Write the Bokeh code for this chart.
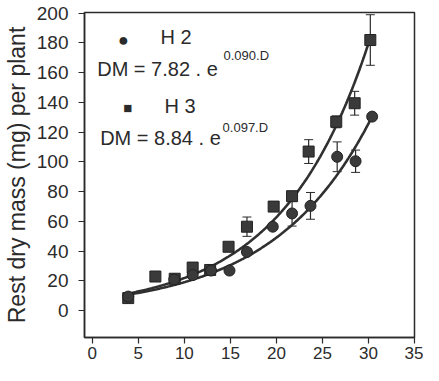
import numpy as np
from bokeh.plotting import figure
from bokeh.models import ColumnDataSource, Whisker, FixedTicker, Label, Range1d
from bokeh.embed import file_html
from bokeh.resources import INLINE

# ---- data ----
h2_day = [3.9, 8.9, 10.9, 12.9, 14.9, 16.8, 19.6, 21.7, 23.7, 26.6, 28.6, 30.4]
h2_dm = [9.5, 21, 24, 27, 27, 39.5, 56.5, 65.4, 70.5, 103.5, 100.5, 130.5]
h2_err = [1, 1, 1.5, 1, 1, 2, 2, 8.5, 9, 10, 7.5, 2]

h3_day = [3.9, 6.85, 8.95, 10.9, 12.8, 14.8, 16.8, 19.7, 21.7, 23.5, 26.5, 28.5, 30.2]
h3_dm = [8.5, 23, 21.5, 29, 27.4, 43, 56.5, 70, 77, 107, 127, 139.5, 182]
h3_err = [1, 2, 1, 2, 1, 1.5, 6.5, 1.5, 2, 8, 4, 8, 17]

# fitted curves as drawn in the picture: DM = a * exp(b * D)
curve_a = [7.5, 7.7]
curve_b = [0.094, 0.105]
curve_start = [3.8, 3.8]

eq_coef = ["7.82", "8.84"]
eq_exp = ["0.090", "0.097"]
series_names = ["H 2", "H 3"]

x_ticks = [0, 5, 10, 15, 20, 25, 30, 35]
y_ticks = [0, 20, 40, 60, 80, 100, 120, 140, 160, 180, 200]

FONT = "Liberation Sans"
INK = "#2b2b2b"
MARK = "#3a3a3a"

p = figure(width=423, height=365, output_backend="svg", toolbar_location=None,
           x_range=Range1d(-0.85, 35), y_range=Range1d(-18, 200.5),
           min_border_left=80, min_border_right=9, min_border_top=12, min_border_bottom=28)
p.background_fill_color = "white"
p.border_fill_color = "white"
p.grid.visible = False
p.outline_line_color = INK
p.outline_line_width = 1.5

for ax in (p.xaxis[0], p.yaxis[0]):
    ax.axis_line_color = INK
    ax.axis_line_width = 1.5
    ax.major_tick_line_color = INK
    ax.major_tick_line_width = 1.2
    ax.major_tick_in = 0
    ax.major_tick_out = 6
    ax.minor_tick_line_color = None
    ax.major_label_text_font = FONT
    ax.major_label_text_color = INK

p.xaxis.ticker = FixedTicker(ticks=x_ticks)
p.yaxis.ticker = FixedTicker(ticks=y_ticks)
p.xaxis.major_label_text_font_size = "17px"
p.xaxis.major_label_standoff = 3
p.yaxis.major_label_text_font_size = "19px"
p.yaxis.major_label_standoff = 10
p.yaxis.axis_label = "Rest dry mass (mg) per plant"
p.yaxis.axis_label_text_font = FONT
p.yaxis.axis_label_text_font_size = "23px"
p.yaxis.axis_label_text_font_style = "normal"
p.yaxis.axis_label_text_color = INK
p.yaxis.axis_label_standoff = 4

# fitted curves
for a, b, s, days in zip(curve_a, curve_b, curve_start, [h2_day, h3_day]):
    d = np.linspace(s, max(days), 200)
    p.line(d, a * np.exp(b * d), line_color="#303030", line_width=2.6)

# error bars + points
src2 = ColumnDataSource(dict(x=h2_day, y=h2_dm,
                             lo=[v - e for v, e in zip(h2_dm, h2_err)],
                             hi=[v + e for v, e in zip(h2_dm, h2_err)]))
src3 = ColumnDataSource(dict(x=h3_day, y=h3_dm,
                             lo=[v - e for v, e in zip(h3_dm, h3_err)],
                             hi=[v + e for v, e in zip(h3_dm, h3_err)]))
for src in (src2, src3):
    w = Whisker(source=src, base="x", lower="lo", upper="hi", line_color=INK, line_width=1.2)
    w.upper_head.size = 9
    w.lower_head.size = 9
    w.upper_head.line_color = INK
    w.lower_head.line_color = INK
    p.add_layout(w)

p.scatter("x", "y", source=src3, marker="square", size=11, fill_color=MARK,
          line_color="#222222", line_width=1)
p.scatter("x", "y", source=src2, marker="circle", size=11, fill_color=MARK,
          line_color="#222222", line_width=1)

# legend / equations
def lab(x, y, text, size, align="left", baseline="alphabetic"):
    p.add_layout(Label(x=x, y=y, text=text, text_font=FONT, text_font_size=size,
                       text_color=INK, text_align=align, text_baseline=baseline))

lab(3.38, 182.3, "\u25CF", "18px", "center", "middle")
lab(7.4, 184.1, series_names[0], "20px", "left", "middle")
lab(0.53, 162.3, "DM = " + eq_coef[0] + " . e", "20px")
lab(14.25, 171.5, eq_exp[0] + ".D", "13px")

lab(3.85, 136.4, "\u25A0", "15px", "center", "middle")
lab(7.83, 137.7, series_names[1], "20px", "left", "middle")
lab(0.85, 115.9, "DM = " + eq_coef[1] + " . e", "20px")
lab(14.15, 123.2, eq_exp[1] + ".D", "13px")

open("out.html", "w").write(file_html(p, INLINE))
